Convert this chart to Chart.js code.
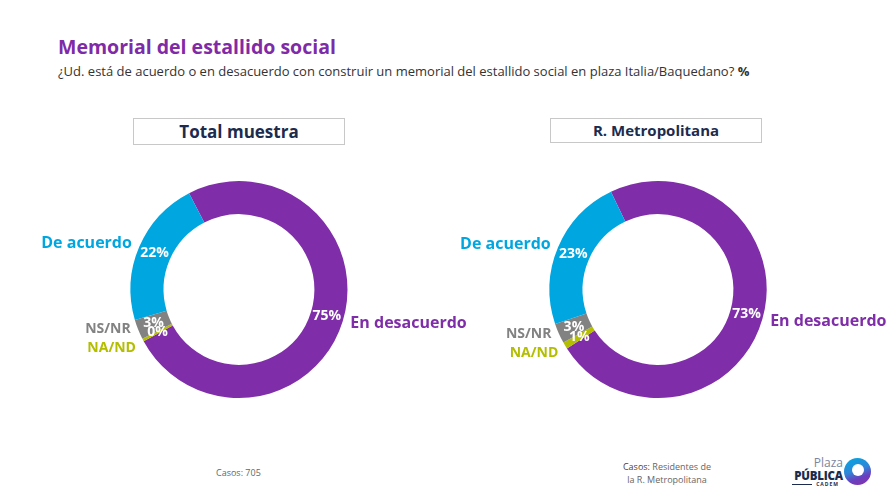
<!DOCTYPE html>
<html><head><meta charset="utf-8">
<script src="https://cdn.jsdelivr.net/npm/chart.js@4.4.0/dist/chart.umd.min.js"></script>
<style>
html,body{margin:0;padding:0;background:#fff;}
body{width:896px;height:504px;position:relative;overflow:hidden;font-family:"Open Sans",sans-serif;}
#title{position:absolute;left:58px;top:33px;font-size:19.5px;font-weight:700;color:#7F2BA7;white-space:nowrap;}
#sub{position:absolute;left:58px;top:62px;font-size:13px;color:#333;white-space:nowrap;}
.box{position:absolute;border:1px solid #c8c8c8;text-align:center;color:#1C2B4E;font-weight:700;box-sizing:border-box;}
canvas{position:absolute;}
.foot{position:absolute;font-size:9px;color:#666;white-space:nowrap;}
</style></head><body>
<div id="title">Memorial del estallido social</div>
<div id="sub">¿Ud. está de acuerdo o en desacuerdo con construir un memorial del estallido social en plaza Italia/Baquedano? <b>%</b></div>
<div class="box" style="left:133px;top:118px;width:212px;height:27px;line-height:25px;font-size:17px;">Total muestra</div>
<div class="box" style="left:550px;top:118px;width:212px;height:25px;line-height:23px;font-size:15px;">R. Metropolitana</div>
<canvas id="c1" width="460" height="300" style="left:9px;top:140px;width:460px;height:300px;"></canvas>
<canvas id="c2" width="460" height="300" style="left:428px;top:140px;width:460px;height:300px;"></canvas>
<div class="foot" style="left:216px;top:466px;">Casos: 705</div>
<div class="foot" style="left:610px;top:460px;width:114px;text-align:center;line-height:13px;"><span style="color:#444;">Casos:</span> Residentes de<br>la R. Metropolitana</div>
<div style="position:absolute;left:788px;top:456px;width:55px;height:34px;">
  <div style="position:absolute;right:0px;top:1px;font-size:12px;color:#7d84a0;line-height:12px;">Plaza</div>
  <div style="position:absolute;right:0px;top:13px;font-size:11.5px;font-weight:800;color:#1C2B4E;line-height:13px;letter-spacing:-0.2px;">PÚBLICA</div>
  <div style="position:absolute;left:4px;top:28px;width:20px;height:1px;background:#1C2B4E;"></div>
  <div style="position:absolute;right:4px;top:26px;font-size:5px;font-weight:700;color:#1C2B4E;letter-spacing:1px;line-height:5px;">CADEM</div>
</div>
<div style="position:absolute;left:844px;top:458px;width:27px;height:27px;border-radius:50%;background:linear-gradient(160deg,#00A8E1 0%,#2f86d8 45%,#6a3fbf 70%,#8B2FA8 100%);"></div>
<div style="position:absolute;left:852px;top:464px;width:12px;height:12px;border-radius:50%;background:#fff;"></div>
<script>
const categories = ["En desacuerdo", "NA/ND", "NS/NR", "De acuerdo"];
const totalValues = [75, 0.4, 3, 22];
const rmValues = [73, 1, 3, 23];
const colors = ["#7F2DA8", "#B3BE00", "#828282", "#00A6E0"];
const labelColors = ["#7F2DA8", "#B3BE00", "#828282", "#00A6E0"];

const labelPlugin = {
  id: 'ringLabels',
  afterDatasetsDraw(chart) {
    const ctx = chart.ctx;
    const meta = chart.getDatasetMeta(0);
    const data = chart.data.datasets[0].data;
    const outer = [];
    ctx.save();
    meta.data.forEach((arc, i) => {
      const p = arc.getProps(['x','y','startAngle','endAngle','innerRadius','outerRadius'], true);
      const mid = (p.startAngle + p.endAngle) / 2;
      const rm = (p.innerRadius + p.outerRadius) / 2;
      ctx.font = '700 14px "Open Sans", sans-serif';
      ctx.fillStyle = '#ffffff';
      ctx.textAlign = 'center';
      ctx.textBaseline = 'middle';
      ctx.fillText(Math.round(data[i]) + '%', p.x + rm * Math.cos(mid), p.y + rm * Math.sin(mid));
      const ro = p.outerRadius + 8;
      outer.push({ i, x: p.x + ro * Math.cos(mid), y: p.y + ro * Math.sin(mid), side: Math.cos(mid) >= 0 ? 1 : -1 });
    });
    // spread overlapping outer labels on the same side
    for (let a = 0; a < outer.length; a++) {
      for (let b = a + 1; b < outer.length; b++) {
        const A = outer[a], B = outer[b];
        if (A.side !== B.side) continue;
        const gap = Math.abs(A.y - B.y);
        const need = 19;
        if (gap < need) {
          const push = (need - gap) / 2;
          if (A.y <= B.y) { A.y -= push; B.y += push; } else { A.y += push; B.y -= push; }
        }
      }
    }
    outer.forEach(o => {
      const small = (categories[o.i] === 'NS/NR' || categories[o.i] === 'NA/ND');
      ctx.font = small ? '700 14px "Open Sans", sans-serif' : '700 16px "Open Sans", sans-serif';
      ctx.fillStyle = labelColors[o.i];
      ctx.textAlign = o.side > 0 ? 'left' : 'right';
      ctx.fillText(categories[o.i], o.x, o.y);
    });
    ctx.restore();
  }
};

function makeChart(id, values, rotation) {
  return new Chart(document.getElementById(id), {
    type: 'doughnut',
    data: { labels: categories, datasets: [{ data: values, backgroundColor: colors, borderWidth: 0 }] },
    options: {
      responsive: false, animation: false,
      cutout: '69.5%',
      rotation: rotation,
      layout: { padding: { top: 41, bottom: 42, left: 0, right: 0 } },
      plugins: { legend: { display: false }, tooltip: { enabled: false } }
    },
    plugins: [labelPlugin]
  });
}
makeChart('c1', totalValues, -27.4);
makeChart('c2', rmValues, -25.7);
</script>
</body></html>
